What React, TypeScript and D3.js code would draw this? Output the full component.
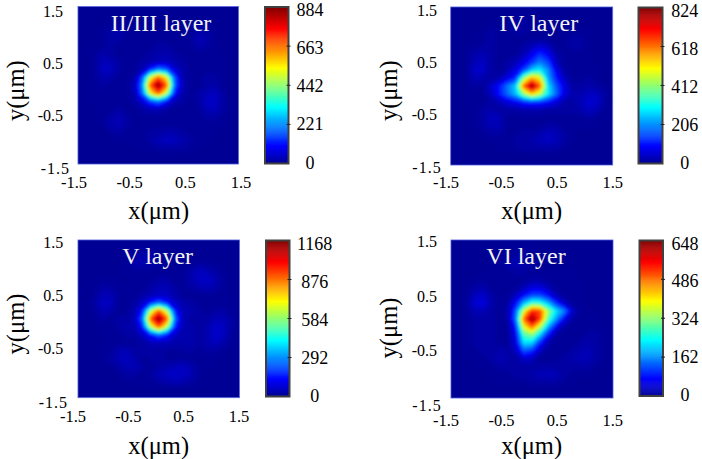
import React, { useEffect, useRef } from 'react';
import * as d3 from 'd3';

// grid runs from -1.5 to 1.5 um on both axes, row 0 is y = 1.5, values are % of the colorbar max
const Z = [0,0,0,0,0,0,0,0,0,0,0,0,0,0,0,0,0,0,0,0,0];

const layer23Pct = [
  Z, Z,
  [0,0,0,0,1,1,1,0,0,0,0,0,0,0,0,1,1,0,0,0,0],
  [0,0,0,1,2,3,1,1,1,1,1,1,1,0,1,2,2,1,0,0,0],
  [0,0,0,1,2,3,1,1,1,1,1,1,1,1,1,4,3,1,0,0,0],
  [0,0,1,1,2,1,1,1,1,1,2,2,1,1,1,3,2,1,0,0,0],
  [0,0,1,3,2,1,1,1,1,2,3,3,2,1,1,1,1,1,0,0,0],
  [0,0,1,4,4,2,1,1,2,3,4,5,3,2,1,1,1,1,1,0,0],
  [0,0,1,5,5,2,1,1,4,14,24,20,8,3,1,1,1,1,1,0,0],
  [0,0,1,3,3,1,1,2,18,58,78,62,20,3,1,1,2,2,1,0,0],
  [0,0,1,2,1,1,1,4,24,78,100,78,22,4,1,1,2,3,1,0,0],
  [0,0,1,1,1,1,1,3,20,60,78,56,14,3,1,2,4,5,2,0,0],
  [0,0,1,1,1,1,1,2,8,18,24,14,4,2,1,2,5,6,2,1,0],
  [0,0,0,1,1,2,1,1,2,4,4,2,1,1,1,1,4,5,2,1,0],
  [0,0,0,1,2,4,2,1,1,1,1,1,1,1,1,1,2,2,1,0,0],
  [0,0,0,1,3,4,2,1,1,1,1,1,1,1,1,1,1,1,1,0,0],
  [0,0,0,0,1,2,1,1,1,2,2,3,3,2,1,1,1,1,0,0,0],
  [0,0,0,0,0,1,1,1,1,2,4,5,5,3,2,1,1,0,0,0,0],
  [0,0,0,0,0,0,0,0,1,1,2,2,2,2,1,1,0,0,0,0,0],
  Z, Z,
];

const layer4Pct = [
  Z,
  [0,0,0,0,0,0,0,0,1,1,1,0,0,0,0,0,0,0,0,0,0],
  [0,0,0,0,0,1,1,1,2,2,1,1,0,0,0,0,0,0,0,0,0],
  [0,0,0,0,1,2,1,1,2,2,1,1,1,1,1,1,1,1,0,0,0],
  [0,0,0,1,1,2,1,1,1,1,1,1,1,1,1,2,2,1,0,0,0],
  [0,0,1,1,2,2,1,1,1,2,4,7,5,1,1,2,2,1,0,0,0],
  [0,0,1,3,4,2,1,1,1,4,10,16,11,3,1,1,1,1,0,0,0],
  [0,0,1,4,5,2,1,2,4,9,16,24,18,5,1,1,1,1,0,0,0],
  [0,0,1,6,6,2,1,3,9,18,32,36,26,10,2,1,1,1,1,0,0],
  [0,0,1,4,3,2,3,9,15,50,70,62,28,14,5,1,1,2,1,0,0],
  [0,0,1,2,1,6,13,23,32,76,100,78,34,20,9,2,2,3,2,1,0],
  [0,0,1,1,1,5,13,22,30,50,66,56,36,22,9,3,3,5,5,2,0],
  [0,0,1,1,1,2,4,8,11,15,17,16,13,8,3,2,4,7,6,2,0],
  [0,0,0,1,2,3,2,2,2,3,3,3,2,2,2,2,3,5,4,1,0],
  [0,0,0,1,2,5,4,1,1,1,1,1,1,1,1,1,1,2,1,1,0],
  [0,0,0,1,2,4,4,1,1,1,1,1,2,2,1,1,1,1,1,0,0],
  [0,0,0,0,1,2,2,1,1,2,2,3,5,4,2,1,0,0,0,0,0],
  [0,0,0,0,0,1,1,1,2,2,3,4,5,4,2,1,0,0,0,0,0],
  [0,0,0,0,0,0,1,1,1,2,2,2,2,2,1,0,0,0,0,0,0],
  Z, Z,
];

const layer5Pct = [
  Z,
  [0,0,0,0,0,0,0,1,1,1,1,0,0,0,0,0,0,0,0,0,0],
  [0,0,0,0,0,0,1,2,3,3,1,1,0,0,0,0,0,0,0,0,0],
  [0,0,0,0,0,0,1,3,3,3,2,1,0,1,1,2,1,1,0,0,0],
  [0,0,0,0,0,0,1,1,1,1,1,1,1,1,3,5,4,2,1,0,0],
  [0,0,0,1,1,1,0,1,1,1,2,2,1,1,3,5,6,4,1,0,0],
  [0,0,1,2,2,1,1,1,1,2,4,4,2,1,2,3,4,3,1,0,0],
  [0,0,1,4,4,1,1,1,2,4,5,5,3,1,1,1,1,1,1,0,0],
  [0,0,2,5,5,1,1,2,6,14,22,14,6,3,2,1,1,1,1,1,0],
  [0,0,1,4,3,1,1,3,14,55,78,55,14,4,3,2,1,2,2,1,0],
  [0,0,1,2,1,2,2,4,22,78,100,78,22,4,2,2,2,4,4,2,0],
  [0,0,0,1,1,2,3,3,14,55,78,55,14,4,3,2,3,6,5,2,0],
  [0,0,0,1,1,1,2,2,6,14,22,14,6,3,3,2,3,6,5,1,0],
  [0,0,0,0,1,1,1,1,2,4,4,4,3,3,3,2,3,5,3,1,0],
  [0,0,0,1,1,3,4,2,2,2,2,2,1,2,2,1,2,2,1,0,0],
  [0,0,0,1,2,4,5,3,1,2,2,1,1,1,1,1,1,1,0,0,0],
  [0,0,0,0,1,2,4,4,2,1,2,3,4,5,3,1,1,0,0,0,0],
  [0,0,0,0,0,1,2,2,1,2,4,5,6,5,4,1,0,0,0,0,0],
  [0,0,0,0,0,0,1,1,1,1,2,3,4,3,2,1,0,0,0,0,0],
  Z, Z,
];

const layer6Pct = [
  Z,
  [0,0,0,0,0,0,0,1,1,1,1,0,0,0,0,0,0,0,0,0,0],
  [0,0,0,0,0,0,1,1,2,2,1,1,0,0,0,0,0,0,0,0,0],
  [0,0,0,0,0,1,1,3,4,3,2,1,0,0,0,0,0,0,0,0,0],
  [0,0,0,0,0,1,1,1,2,2,1,1,1,1,1,1,0,0,0,0,0],
  [0,0,0,1,1,1,1,1,1,1,2,2,1,1,1,1,0,0,0,0,0],
  [0,0,1,2,3,1,1,1,1,4,8,8,4,1,1,1,1,0,0,0,0],
  [0,0,1,5,6,2,1,1,5,12,18,18,12,4,1,1,1,0,0,0,0],
  [0,0,2,7,8,3,1,2,12,30,42,40,30,16,6,1,1,0,0,0,0],
  [0,0,1,4,4,2,1,2,20,58,84,80,52,34,24,6,1,1,0,0,0],
  [0,0,1,2,2,2,1,2,22,76,100,80,44,26,10,2,1,1,1,0,0],
  [0,0,1,2,2,2,1,1,14,60,76,54,28,10,2,1,1,1,1,1,0],
  [0,0,1,2,2,2,1,1,10,44,50,32,12,2,1,1,1,2,2,1,0],
  [0,0,1,2,2,2,1,1,8,34,32,14,3,1,1,1,2,3,2,1,0],
  [0,0,1,1,2,2,3,2,5,20,16,5,1,1,1,2,3,4,2,1,0],
  [0,0,0,1,1,2,4,3,2,6,5,1,1,1,2,3,4,4,2,1,0],
  [0,0,0,0,1,1,2,2,2,2,2,2,2,2,2,2,2,2,1,0,0],
  [0,0,0,0,0,1,1,1,2,2,3,4,5,4,2,1,1,1,0,0,0],
  [0,0,0,0,0,0,1,1,1,1,2,2,2,2,1,1,0,0,0,0,0],
  Z, Z,
];

const axisTicks = [-1.5, -0.5, 0.5, 1.5];
const panelTitles = ['II/III layer', 'IV layer', 'V layer', 'VI layer'];
const colorTicks = [
  [0, 221, 442, 663, 884],
  [0, 206, 412, 618, 824],
  [0, 292, 584, 876, 1168],
  [0, 162, 324, 486, 648],
];
const grids = [layer23Pct, layer4Pct, layer5Pct, layer6Pct];

// pixel layout, the four panels are not quite aligned in the source figure
const panels = [
  { l: 78, r: 238.5, t: 6.5, b: 164, barL: 265, barR: 288.5, barT: 7, barB: 163.5, barMid: 310, xLab: [74, 241], xLabY: 182.7, yLab: [168, 11.5], yLabR: 63, yLabEnd: 70, xTitle: [158.7, 210.7], yTitle: [15, 90.7], title: [161, 22.7] },
  { l: 450.7, r: 612.7, t: 7, b: 165, barL: 638.5, barR: 662.5, barT: 7.5, barB: 163.5, barMid: 684.7, xLab: [446, 612.7], xLabY: 182.7, yLab: [167, 10.5], yLabR: 437, yLabEnd: 441.7, xTitle: [531.7, 210.7], yTitle: [388, 90.7], title: [538.7, 22.7] },
  { l: 78, r: 239.5, t: 240, b: 397.7, barL: 266, barR: 289.5, barT: 240.5, barB: 396.5, barMid: 314.7, xLab: [73, 239], xLabY: 416.7, yLab: [402, 242.5], yLabR: 63.3, yLabEnd: 68, xTitle: [158.7, 445], yTitle: [15, 324], title: [157.7, 256] },
  { l: 451, r: 613, t: 240, b: 398, barL: 639.5, barR: 663, barT: 240.5, barB: 396, barMid: 685, xLab: [446, 612.7], xLabY: 420, yLab: [405, 241.7], yLabR: 437, yLabEnd: 441.7, xTitle: [531.7, 445], yTitle: [388, 328], title: [526, 256] },
];

const jet = d3.scaleLinear<string>()
  .domain([0, 0.11, 0.36, 0.61, 0.86, 1])
  .range(['#000094', '#0000ff', '#00ffff', '#ffff00', '#ff0000', '#800000'])
  .clamp(true);

const FONT = '"Liberation Serif", "Times New Roman", serif';
const thresholds = d3.range(0.5, 100, 1);

export default function App() {
  const svgRef = useRef<SVGSVGElement>(null);

  useEffect(() => {
    if (!svgRef.current) return;
    const svg = d3.select(svgRef.current);
    svg.html('');

    const defs = svg.append('defs');
    defs.append('filter').attr('id', 'soft')
      .attr('x', '-5%').attr('y', '-5%').attr('width', '110%').attr('height', '110%')
      .append('feGaussianBlur').attr('stdDeviation', 1.5);

    panels.forEach((p, k) => {
      const g = svg.append('g');
      const x = d3.scaleLinear().domain([-1.5, 1.5]).range([p.l, p.r]);
      const y = d3.scaleLinear().domain([-1.5, 1.5]).range([p.b, p.t]);

      const rows = grids[k];
      const n = rows[0].length;
      const m = rows.length;
      const flat = rows.flat();

      // contour coordinates -> um -> pixels
      const step = 3 / (n - 1);
      const project = d3.geoTransform({
        point(px, py) {
          this.stream.point(x(-1.5 + (px - 0.5) * step), y(1.5 - (py - 0.5) * step));
        },
      });
      const path = d3.geoPath(project);
      const contours = d3.contours().size([n, m]).thresholds(thresholds)(flat);

      const clipId = `clip-${k}`;
      defs.append('clipPath').attr('id', clipId).append('rect')
        .attr('x', p.l).attr('y', p.t).attr('width', p.r - p.l).attr('height', p.b - p.t);

      const plot = g.append('g').attr('clip-path', `url(#${clipId})`);
      plot.append('rect')
        .attr('x', p.l).attr('y', p.t).attr('width', p.r - p.l).attr('height', p.b - p.t)
        .attr('fill', jet(0));
      plot.append('g').attr('filter', 'url(#soft)')
        .selectAll('path').data(contours).enter().append('path')
        .attr('d', d => path(d as any))
        .attr('fill', d => jet(d.value / 100));

      g.append('rect')
        .attr('x', p.l).attr('y', p.t).attr('width', p.r - p.l).attr('height', p.b - p.t)
        .attr('fill', 'none').attr('stroke', '#4a5ad8').attr('stroke-width', 0.8);

      // colorbar
      const ticks = colorTicks[k];
      const max = ticks[ticks.length - 1];
      const barY = d3.scaleLinear().domain([0, max]).range([p.barB, p.barT]);
      const labY = d3.scaleLinear().domain([0, max]).range([p.barB - 1, p.barT + 3]);
      const levels = d3.range(0, 160).map(i => (i / 160) * max);
      g.append('g').selectAll('rect').data(levels).enter().append('rect')
        .attr('x', p.barL).attr('width', p.barR - p.barL)
        .attr('y', d => barY(d + max / 160))
        .attr('height', d => barY(d) - barY(d + max / 160) + 0.5)
        .attr('fill', d => jet(d / max));
      g.append('rect')
        .attr('x', p.barL).attr('y', p.barT).attr('width', p.barR - p.barL).attr('height', p.barB - p.barT)
        .attr('fill', 'none').attr('stroke', '#404040').attr('stroke-width', 2);
      g.append('g').selectAll('line').data(ticks.slice(1, -1)).enter().append('line')
        .attr('x1', p.barR - 2).attr('x2', p.barR + 2)
        .attr('y1', d => barY(d)).attr('y2', d => barY(d))
        .attr('stroke', '#222').attr('stroke-width', 1);
      g.append('g').selectAll('text').data(ticks).enter().append('text')
        .attr('x', p.barMid).attr('y', d => labY(d))
        .attr('text-anchor', 'middle').attr('dominant-baseline', 'central')
        .attr('font-size', 18).text(d => d);

      // axis labels
      const xLab = d3.scaleLinear().domain([-1.5, 1.5]).range(p.xLab);
      const yLab = d3.scaleLinear().domain([-1.5, 1.5]).range(p.yLab);
      g.append('g').selectAll('text').data(axisTicks).enter().append('text')
        .attr('x', d => xLab(d)).attr('y', p.xLabY)
        .attr('text-anchor', 'middle').attr('dominant-baseline', 'central')
        .attr('font-size', 16.5).text(d => String(d));
      g.append('g').selectAll('text').data(axisTicks).enter().append('text')
        .attr('x', d => (d === -1.5 ? p.yLabEnd : p.yLabR)).attr('y', d => yLab(d))
        .attr('text-anchor', 'end').attr('dominant-baseline', 'central')
        .attr('font-size', 16).attr('letter-spacing', d => (d === -1.5 ? 1 : 0)).text(d => String(d));

      g.append('text')
        .attr('x', p.xTitle[0]).attr('y', p.xTitle[1])
        .attr('text-anchor', 'middle').attr('dominant-baseline', 'central')
        .attr('font-size', 24.5).text('x(\u03bcm)');
      g.append('text')
        .attr('transform', `translate(${p.yTitle[0]},${p.yTitle[1]}) rotate(-90)`)
        .attr('text-anchor', 'middle').attr('dominant-baseline', 'central')
        .attr('font-size', 24.5).text('y(\u03bcm)');
      g.append('text')
        .attr('x', p.title[0]).attr('y', p.title[1])
        .attr('text-anchor', 'middle').attr('dominant-baseline', 'central')
        .attr('font-size', 24).attr('fill', '#f2f2f2').text(panelTitles[k]);
    });
  }, []);

  return (
    <svg
      ref={svgRef}
      width={702}
      height={459}
      style={{ position: 'absolute', left: 0, top: 0, fontFamily: FONT, background: '#fff' }}
    />
  );
}
